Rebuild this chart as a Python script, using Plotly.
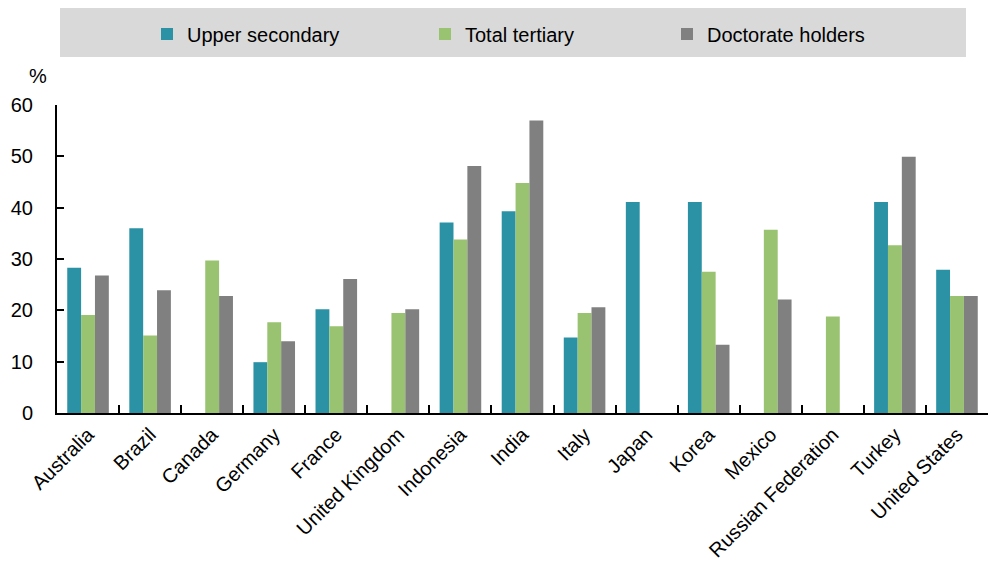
import plotly.graph_objects as go

countries = ["Australia", "Brazil", "Canada", "Germany", "France", "United Kingdom",
             "Indonesia", "India", "Italy", "Japan", "Korea", "Mexico",
             "Russian Federation", "Turkey", "United States"]
upper_secondary = [28.3, 36.0, None, 9.9, 20.2, None, 37.1, 39.3, 14.7, 41.1, 41.1, None, None, 41.1, 27.9]
total_tertiary = [19.1, 15.1, 29.7, 17.7, 16.9, 19.5, 33.8, 44.8, 19.5, None, 27.5, 35.7, 18.8, 32.7, 22.8]
doctorate = [26.8, 23.9, 22.8, 14.0, 26.1, 20.2, 48.1, 57.0, 20.6, None, 13.3, 22.1, None, 49.9, 22.8]

series_names = ["Upper secondary", "Total tertiary", "Doctorate holders"]
colors = ["#2b92a6", "#99c370", "#808080"]
FONT = "Liberation Sans, Arial, sans-serif"

fig = go.Figure()
legends = ["legend", "legend2", "legend3"]
for name, vals, col, lg in zip(series_names, [upper_secondary, total_tertiary, doctorate], colors, legends):
    fig.add_trace(go.Bar(x=countries, y=vals, name=name, marker=dict(color=col, line=dict(width=0)),
                         legend=lg))

W, H = 994, 561
ml, mr, mt, mb = 57, 6, 105, 148
legend_common = dict(orientation="h", bgcolor="rgba(0,0,0,0)", font=dict(family=FONT, size=20, color="#000"),
                     xref="container", yref="container", xanchor="left", yanchor="middle",
                     itemwidth=30, tracegroupgap=0)
leg_x = [147, 425, 667]
fig.update_layout(
    width=W, height=H,
    margin=dict(l=ml, r=mr, t=mt, b=mb),
    paper_bgcolor="white", plot_bgcolor="white",
    barmode="group", bargap=0.33, bargroupgap=0,
    font=dict(family=FONT, size=20, color="#000"),
    showlegend=True,
    legend=dict(**legend_common, x=leg_x[0] / W, y=1 - 34 / H),
    legend2=dict(**legend_common, x=leg_x[1] / W, y=1 - 34 / H),
    legend3=dict(**legend_common, x=leg_x[2] / W, y=1 - 34 / H),
    shapes=[dict(type="rect", xref="paper", yref="paper",
                 x0=(60 - ml) / (W - ml - mr), x1=(966 - ml) / (W - ml - mr),
                 y0=1 + (mt - 57) / (H - mt - mb), y1=1 + (mt - 8) / (H - mt - mb),
                 fillcolor="#d9d9d9", line=dict(width=0), layer="below")],
    annotations=[dict(text="%", xref="paper", yref="paper", x=-(ml - 38) / (W - ml - mr),
                      y=1 + (mt - 76) / (H - mt - mb), showarrow=False, xanchor="center", yanchor="middle",
                      font=dict(family=FONT, size=20, color="#000"))],
)
fig.update_xaxes(showline=True, linecolor="#000", linewidth=2, ticks="inside", tickson="boundaries",
                 ticklen=8, tickwidth=2, tickcolor="#000", tickangle=-45, automargin=False,
                 tickfont=dict(family=FONT, size=20, color="#000"), showgrid=False)
fig.update_yaxes(range=[0, 60], dtick=10, showline=True, linecolor="#000", linewidth=2, ticks="inside",
                 ticklen=7, tickwidth=2, tickcolor="#000", showgrid=False, zeroline=False,
                 ticklabelstandoff=18, automargin=False,
                 tickfont=dict(family=FONT, size=20, color="#000"))

fig.write_html("out.html", config={"displayModeBar": False},
               post_script="document.body.style.margin='0';document.body.style.padding='0';")
